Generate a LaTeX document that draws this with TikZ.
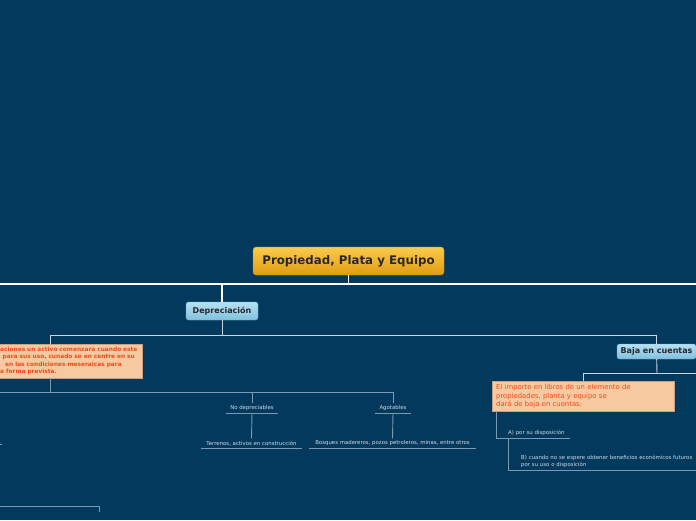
\documentclass[tikz,border=0pt]{standalone}
\usepackage{fontspec}
\setmainfont{DejaVu Sans}
\usetikzlibrary{positioning}

\definecolor{mapBg}{RGB}{4,57,94}
\definecolor{rootTop}{RGB}{251,203,75}
\definecolor{rootBottom}{RGB}{224,155,18}
\definecolor{rootEdge}{RGB}{200,140,20}
\definecolor{subTop}{RGB}{182,225,243}
\definecolor{subBottom}{RGB}{128,192,222}
\definecolor{subEdge}{RGB}{104,170,205}
\definecolor{topicText}{RGB}{40,40,40}
\definecolor{noteFill}{RGB}{246,201,160}
\definecolor{noteEdge}{RGB}{200,160,130}
\definecolor{noteText}{RGB}{240,74,30}
\definecolor{leafText}{RGB}{208,218,228}
\definecolor{branchLine}{RGB}{200,214,226}
\definecolor{twigLine}{RGB}{125,152,179}

\begin{document}
\begin{tikzpicture}[
    x=1pt, y=-1pt,
    mainTopic/.style = {
        draw=rootEdge,
        rounded corners=3pt,
        top color=rootTop,
        bottom color=rootBottom,
        minimum width=191pt,
        minimum height=28pt,
        text=topicText,
        font=\fontsize{11.8}{13}\selectfont\bfseries,
    },
    subTopic/.style = {
        draw=subEdge,
        rounded corners=2.5pt,
        top color=subTop,
        bottom color=subBottom,
        text=topicText,
        inner xsep=1pt,
        font=\fontsize{8}{9}\selectfont\bfseries,
    },
    noteBox/.style = {
        draw=noteEdge,
        fill=noteFill,
        text=noteText,
        anchor=north west,
        align=left,
        inner sep=4pt,
    },
    leaf/.style = {
        text=leafText,
        font=\fontsize{5.4}{7}\selectfont,
        inner xsep=0pt,
        inner ysep=2pt,
        anchor=south,
    },
    trunk/.style = {
        draw=white,
        line width=1.3pt,
    },
    branch/.style = {
        draw=branchLine,
        line width=0.9pt,
    },
    twig/.style = {
        draw=twigLine,
        line width=0.9pt,
    },
]

\newcommand{\leaf}[3][]{
    \node(#2)[leaf, #1] {#3};
    \draw[twig] (#2.south west) -- (#2.south east);
}

\useasboundingbox (0,0) rectangle (696,520);
\fill[mapBg] (0,0) rectangle (696,520);
\clip (0,0) rectangle (696,520);

% central topic
\node(root)[mainTopic] at (348.5,261) {Propiedad, Plata y Equipo};
\coordinate(busL) at (0,284);
\coordinate(busR) at (696,284);
\draw[trunk] (busL) -- (busR);
\draw[trunk] (root) -- (root |- busL);

% depreciacion
\node(dep)[subTopic, minimum width=72pt, minimum height=18pt] at (222,311) {Depreciación};
\draw[trunk] (dep) -- (dep |- busL);

\coordinate(depBus) at (222,335);
\coordinate(note1Top) at (50,344);
\draw[branch] (dep) -- (depBus);
\draw[branch] (depBus) -| (note1Top);

\node(note1)[noteBox, text width=138pt, inner ysep=3pt,
    font=\fontsize{5.85}{7.3}\selectfont\bfseries] at (-4,344) {
    aciones un activo comenzara cuando este\\
    \hspace*{2.5pt}para sus uso, cunado se en centre en su\\
    \hspace*{5pt}en las condiciones meseraicas para\\
    a forma prevista.
};

\coordinate(lowBus) at (50,392);
\coordinate(lowBusL) at (0,392);
\draw[twig] (note1.south -| lowBus) -- (lowBus);

\leaf[minimum width=52pt, at={(252,413)}]{noDep}{No depreciables}
\leaf[minimum width=36pt, at={(393,413)}]{agot}{Agotables}
\leaf[minimum width=101pt, at={(251.5,448)}]{terrenos}{Terrenos, activos en construcción}
\leaf[minimum width=167pt, at={(392.5,448)}]{bosques}{Bosques madereros, pozos petroleros, minas, entre otros}

\draw[twig] (lowBusL) -| (noDep);
\draw[twig] (lowBusL) -| (agot);
\draw[twig] (noDep.south) -- (terrenos.north);
\draw[twig] (agot.south) -- (bosques.north);

% baja en cuentas
\node(baja)[subTopic, minimum width=79pt, minimum height=15pt] at (656.5,351.5) {Baja en cuentas};
\draw[branch] (depBus) -| (baja);

\coordinate(bajaBus) at (657,373);
\coordinate(bajaBusR) at (696,373);
\draw[branch] (baja) -- (bajaBus);

\node(note2)[noteBox, text width=174pt, inner ysep=3pt,
    font=\fontsize{6.85}{8.7}\selectfont] at (492,381) {
    El importe en libros de un elemento de\\
    propiedades, planta y equipo se\\
    dará de baja en cuentas:
};
\draw[branch] (bajaBusR) -| (note2);

\leaf[anchor=south west, text width=50pt, align=left, inner xsep=12pt, at={(496,438)}]{dispA}{\mbox{A) por su disposición}}
\leaf[anchor=south west, text width=175pt, align=left, inner xsep=13pt, at={(508,470)}]{dispB}{B) cuando no se espere obtener beneficios económicos futuros\\por su uso o disposición}

\draw[twig] (dispA.south west |- note2.south) -- (dispA.south west);
\draw[twig] (dispB.south west |- dispA.south) -- (dispB.south west);

% cut-off branches on the left
\coordinate(stubL) at (0,444);
\draw[twig] (stubL) -- ++(2,0);
\coordinate(lastBus) at (0,506);
\draw[twig] (lastBus) -| ++(99,6);

\end{tikzpicture}
\end{document}
